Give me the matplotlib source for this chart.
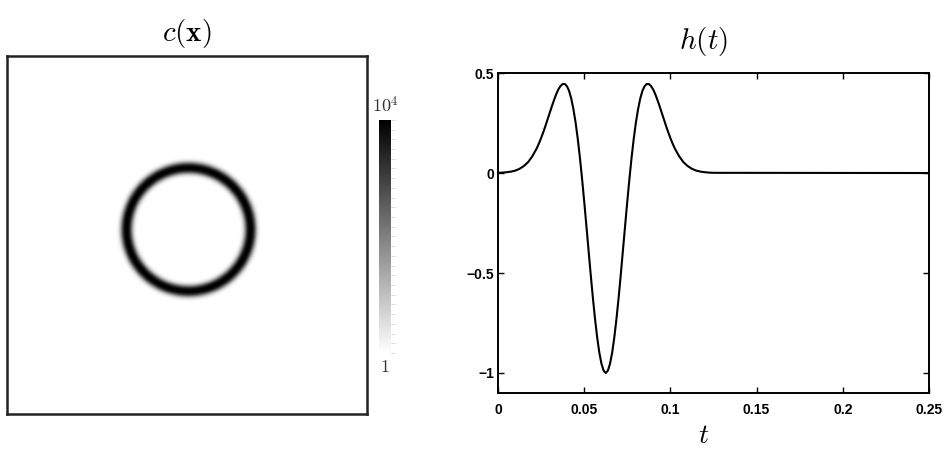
import numpy as np
import matplotlib
matplotlib.use("Agg")
import matplotlib.pyplot as plt
from matplotlib.colors import LogNorm

plt.rcParams['mathtext.fontset'] = 'cm'

# ---- data ----
# h(t): source wavelet
t_vals = [0.0, 0.0025, 0.005, 0.0075, 0.01, 0.0125, 0.015, 0.0175, 0.02, 0.0225,
          0.02375, 0.025, 0.02625, 0.0275, 0.02875, 0.03, 0.03125, 0.0325, 0.03375, 0.035,
          0.03625, 0.0375, 0.03875, 0.04, 0.04125, 0.0425, 0.04375, 0.045, 0.04625, 0.0475,
          0.04875, 0.05, 0.05125, 0.0525, 0.05375, 0.055, 0.05625, 0.0575, 0.05875, 0.06,
          0.06125, 0.0625, 0.06375, 0.065, 0.06625, 0.0675, 0.06875, 0.07, 0.07125, 0.0725,
          0.07375, 0.075, 0.07625, 0.0775, 0.07875, 0.08, 0.08125, 0.0825, 0.08375, 0.085,
          0.08625, 0.0875, 0.08875, 0.09, 0.09125, 0.0925, 0.09375, 0.095, 0.09625, 0.0975,
          0.09875, 0.1, 0.10125, 0.1025, 0.105, 0.1075, 0.11, 0.1125, 0.115, 0.1175,
          0.12, 0.1225, 0.125, 0.25]
h_vals = [0.001, 0.002, 0.004, 0.007, 0.012, 0.021, 0.035, 0.055, 0.085, 0.124,
          0.148, 0.175, 0.204, 0.235, 0.268, 0.301, 0.334, 0.365, 0.394, 0.418,
          0.435, 0.445, 0.445, 0.434, 0.410, 0.372, 0.319, 0.253, 0.172, 0.078,
          -0.028, -0.142, -0.262, -0.384, -0.505, -0.621, -0.727, -0.820, -0.897, -0.953,
          -0.988, -1.000, -0.988, -0.953, -0.897, -0.820, -0.727, -0.621, -0.505, -0.384,
          -0.262, -0.142, -0.028, 0.078, 0.172, 0.253, 0.319, 0.372, 0.410, 0.434,
          0.445, 0.445, 0.435, 0.418, 0.394, 0.365, 0.334, 0.301, 0.268, 0.235,
          0.204, 0.175, 0.148, 0.124, 0.085, 0.055, 0.035, 0.021, 0.012, 0.007,
          0.004, 0.002, 0.001, 0.0]

x_ticks = [0, 0.05, 0.1, 0.15, 0.2, 0.25]
x_labels = ['0', '0.05', '0.1', '0.15', '0.2', '0.25']
y_ticks = [-1, -0.5, 0, 0.5]
y_labels = ['\u22121', '\u22120.5', '0', '0.5']

# c(x): thin ring of high values; radial profile of log10(c) around the ring centre
ring_center = (0.503, 0.514)
ring_r = [0.0, 0.141, 0.1453, 0.1497, 0.1542, 0.1586, 0.163, 0.1675, 0.172,
          0.1765, 0.181, 0.1854, 0.1898, 0.1943, 0.1987, 0.203, 1.5]
ring_logc = [0.0, 0.0, 0.1, 0.4, 1.1, 2.2, 3.3, 3.9, 4.0,
             3.9, 3.3, 2.2, 1.1, 0.4, 0.1, 0.0, 0.0]
c_min, c_max = 1, 1e4

# ---- figure ----
fig = plt.figure(figsize=(9.45, 4.5), dpi=100)

# left: c(x)
ax1 = fig.add_axes([0.0074, 0.08, 0.381, 0.7956])
n = 400
gx, gy = np.meshgrid(np.linspace(0, 1, n), np.linspace(0, 1, n))
dist = np.hypot(gx - ring_center[0], gy - ring_center[1])
field = 10 ** np.interp(dist, ring_r, ring_logc)
im = ax1.imshow(field, origin='lower', extent=[0, 1, 0, 1], cmap='gray_r',
                norm=LogNorm(vmin=c_min, vmax=c_max), interpolation='bilinear',
                aspect='auto')
ax1.set_xticks([])
ax1.set_yticks([])
for sp in ax1.spines.values():
    sp.set_linewidth(1.8)
    sp.set_color('#222222')
ax1.set_title(r'$c(\mathbf{x})$', fontsize=21, pad=11)

# colorbar
cax = fig.add_axes([0.401, 0.2156, 0.0127, 0.518])
cb = fig.colorbar(im, cax=cax)
cb.outline.set_visible(False)
cb.set_ticks(10 ** np.linspace(0, 4, 25))
cax.minorticks_off()
cax.tick_params(which='both', direction='out', right=True, labelright=False,
                color='#d8d8d8', width=0.6, length=3)
cax.text(0.5, 1.015, r'$10^4$', transform=cax.transAxes, ha='center', va='bottom',
         fontsize=13, color='#333333')
cax.text(0.5, -0.02, r'$1$', transform=cax.transAxes, ha='center', va='top',
         fontsize=13, color='#333333')

# right: h(t)
ax2 = fig.add_axes([0.527, 0.1267, 0.456, 0.711])
ax2.plot(t_vals, h_vals, color='black', lw=1.5)
ax2.set_xlim(0, 0.25)
ax2.set_ylim(-1.1, 0.5)
ax2.set_xticks(x_ticks)
ax2.set_xticklabels(x_labels)
ax2.set_yticks(y_ticks)
ax2.set_yticklabels(y_labels)
ax2.tick_params(direction='in', top=True, right=True, length=4, width=1)
ax2.tick_params(axis='x', pad=7)
ax2.tick_params(axis='y', pad=3)
for lab in ax2.get_xticklabels() + ax2.get_yticklabels():
    lab.set_fontfamily('Liberation Sans')
    lab.set_fontweight('bold')
    lab.set_fontsize(10)
for sp in ax2.spines.values():
    sp.set_linewidth(1.4)
ax2.set_title(r'$h(t)$', fontsize=21, pad=17, x=0.478)
ax2.set_xlabel(r'$t$', fontsize=20, va='center')
ax2.xaxis.set_label_coords(0.478, -0.13)

fig.savefig('out.png', dpi=100)
